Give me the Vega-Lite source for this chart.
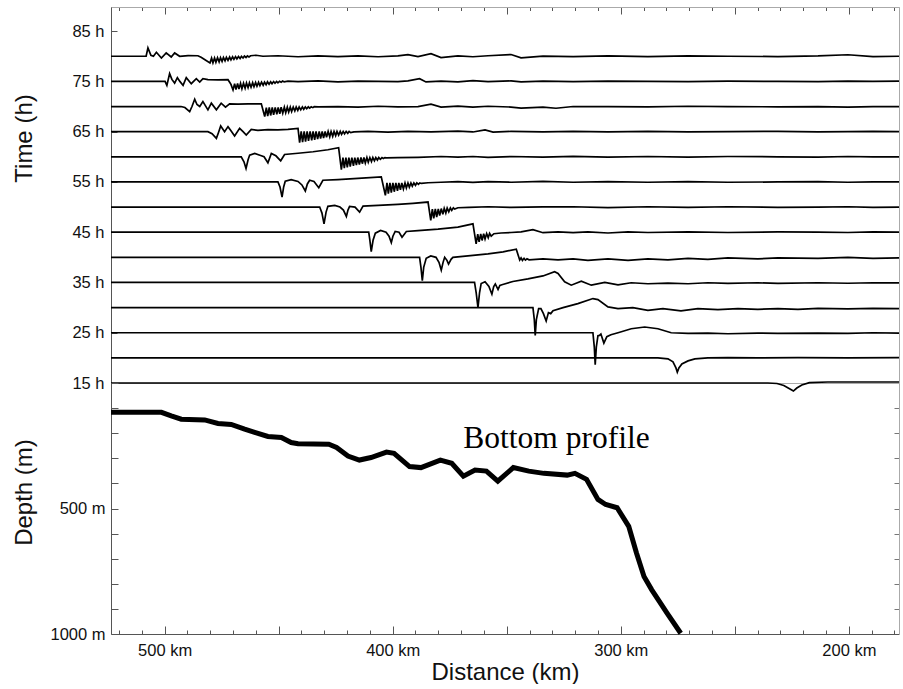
{
"$schema":"https://vega.github.io/schema/vega-lite/v6.json",
"padding":{"left":11,"top":6,"right":0,"bottom":0},
"background":"white",
"datasets":{
"traces":[
{"t":80,"d":523.5,"h":80},{"t":80,"d":508.1,"h":80},{"t":80,"d":507.3,"h":81.68},{"t":80,"d":506.0,"h":80.2},{"t":80,"d":504.9,"h":80},{"t":80,"d":503.6,"h":80.8},{"t":80,"d":501.4,"h":79.66},{"t":80,"d":499.3,"h":80.66},{"t":80,"d":497.1,"h":79.86},{"t":80,"d":495.6,"h":80.66},{"t":80,"d":493.4,"h":80},{"t":80,"d":489.7,"h":80.14},{"t":80,"d":485.4,"h":80.1},{"t":80,"d":484.0,"h":79.8},{"t":80,"d":482.3,"h":79.3},{"t":80,"d":480.1,"h":78.68},
{"t":80,"d":479.4,"h":79.62},{"t":80,"d":478.8,"h":78.70},{"t":80,"d":478.1,"h":79.66},{"t":80,"d":477.5,"h":78.80},{"t":80,"d":476.8,"h":79.70},{"t":80,"d":476.1,"h":78.88},{"t":80,"d":475.5,"h":79.73},{"t":80,"d":474.8,"h":78.98},{"t":80,"d":474.2,"h":79.76},{"t":80,"d":473.5,"h":79.08},{"t":80,"d":472.9,"h":79.80},{"t":80,"d":472.2,"h":79.18},{"t":80,"d":471.5,"h":79.84},{"t":80,"d":470.9,"h":79.28},{"t":80,"d":470.2,"h":79.88},{"t":80,"d":469.6,"h":79.38},{"t":80,"d":468.9,"h":79.92},{"t":80,"d":468.3,"h":79.46},{"t":80,"d":467.6,"h":79.95},{"t":80,"d":466.9,"h":79.56},{"t":80,"d":466.3,"h":79.99},{"t":80,"d":465.6,"h":79.66},{"t":80,"d":465.0,"h":80.03},{"t":80,"d":464.3,"h":79.76},{"t":80,"d":463.7,"h":80.06},{"t":80,"d":463.0,"h":79.86},{"t":80,"d":462.3,"h":80.10},
{"t":80,"d":459.9,"h":80.2},{"t":80,"d":456.9,"h":80.0},{"t":80,"d":450.3,"h":80.1},{"t":80,"d":441.5,"h":79.9},{"t":80,"d":432.7,"h":80.06},{"t":80,"d":424.0,"h":79.94},{"t":80,"d":415.2,"h":80.08},{"t":80,"d":406.4,"h":79.9},{"t":80,"d":397.7,"h":80.06},{"t":80,"d":393.3,"h":80.34},{"t":80,"d":388.9,"h":79.94},{"t":80,"d":383.2,"h":80.5},{"t":80,"d":378.8,"h":79.74},{"t":80,"d":371.4,"h":80.06},{"t":80,"d":364.8,"h":79.9},{"t":80,"d":358.2,"h":80.1},{"t":80,"d":348.1,"h":80.34},{"t":80,"d":343.7,"h":79.7},{"t":80,"d":334.1,"h":80.04},{"t":80,"d":320.9,"h":79.94},{"t":80,"d":305.6,"h":80.06},{"t":80,"d":288.1,"h":79.94},{"t":80,"d":270.5,"h":80.06},{"t":80,"d":253.0,"h":80.0},{"t":80,"d":231.1,"h":79.94},{"t":80,"d":213.5,"h":80.06},{"t":80,"d":200.4,"h":80.3},{"t":80,"d":189.4,"h":79.94},{"t":80,"d":178.0,"h":80.0},

{"t":75,"d":523.5,"h":75},{"t":75,"d":499.8,"h":75},{"t":75,"d":499.0,"h":74.2},{"t":75,"d":497.8,"h":76.54},{"t":75,"d":496.8,"h":75.4},{"t":75,"d":495.6,"h":74.66},{"t":75,"d":494.4,"h":75.74},{"t":75,"d":493.3,"h":75},{"t":75,"d":491.9,"h":74.2},{"t":75,"d":490.5,"h":75.74},{"t":75,"d":488.3,"h":74.54},{"t":75,"d":486.1,"h":75.54},{"t":75,"d":484.6,"h":74.86},{"t":75,"d":483.2,"h":75.54},{"t":75,"d":481.0,"h":75.34},{"t":75,"d":476.6,"h":75.3},{"t":75,"d":472.2,"h":75.34},{"t":75,"d":470.9,"h":74.4},{"t":75,"d":470.0,"h":73.3},
{"t":75,"d":469.3,"h":74.56},{"t":75,"d":468.7,"h":73.36},{"t":75,"d":468.0,"h":74.59},{"t":75,"d":467.4,"h":73.46},{"t":75,"d":466.7,"h":74.62},{"t":75,"d":466.1,"h":73.55},{"t":75,"d":465.4,"h":74.65},{"t":75,"d":464.7,"h":73.65},{"t":75,"d":464.1,"h":74.68},{"t":75,"d":463.4,"h":73.75},{"t":75,"d":462.8,"h":74.71},{"t":75,"d":462.1,"h":73.85},{"t":75,"d":461.4,"h":74.75},{"t":75,"d":460.8,"h":73.94},{"t":75,"d":460.1,"h":74.78},{"t":75,"d":459.5,"h":74.04},{"t":75,"d":458.8,"h":74.81},{"t":75,"d":458.2,"h":74.14},{"t":75,"d":457.5,"h":74.84},{"t":75,"d":456.8,"h":74.24},{"t":75,"d":456.2,"h":74.87},{"t":75,"d":455.5,"h":74.33},{"t":75,"d":454.9,"h":74.91},{"t":75,"d":454.2,"h":74.43},{"t":75,"d":453.5,"h":74.94},{"t":75,"d":452.9,"h":74.53},{"t":75,"d":452.2,"h":74.97},{"t":75,"d":451.6,"h":74.63},{"t":75,"d":450.9,"h":75.0},{"t":75,"d":450.3,"h":74.72},{"t":75,"d":449.6,"h":75.03},{"t":75,"d":448.9,"h":74.82},{"t":75,"d":448.3,"h":75.06},{"t":75,"d":447.6,"h":74.92},
{"t":75,"d":445.9,"h":75.06},{"t":75,"d":441.5,"h":74.94},{"t":75,"d":432.7,"h":75.1},{"t":75,"d":424.0,"h":74.9},{"t":75,"d":415.2,"h":75.06},{"t":75,"d":406.4,"h":75.0},{"t":75,"d":397.7,"h":74.94},{"t":75,"d":393.3,"h":75.1},{"t":75,"d":388.2,"h":75.54},{"t":75,"d":385.4,"h":74.9},{"t":75,"d":378.8,"h":75.06},{"t":75,"d":371.4,"h":74.9},{"t":75,"d":364.8,"h":75.16},{"t":75,"d":358.2,"h":74.94},{"t":75,"d":348.1,"h":75.1},{"t":75,"d":343.7,"h":74.9},{"t":75,"d":334.1,"h":75.06},{"t":75,"d":320.9,"h":74.94},{"t":75,"d":305.6,"h":75.06},{"t":75,"d":288.1,"h":75.0},{"t":75,"d":270.5,"h":74.94},{"t":75,"d":253.0,"h":75.06},{"t":75,"d":231.1,"h":75.0},{"t":75,"d":213.5,"h":74.94},{"t":75,"d":200.4,"h":75.06},{"t":75,"d":189.4,"h":75.0},{"t":75,"d":178.0,"h":75.06},

{"t":70,"d":523.5,"h":70},{"t":70,"d":492.8,"h":70},{"t":70,"d":491.1,"h":69.8},{"t":70,"d":489.0,"h":69.0},{"t":70,"d":488.0,"h":70},{"t":70,"d":486.8,"h":71.46},{"t":70,"d":485.8,"h":70.4},{"t":70,"d":484.6,"h":70},{"t":70,"d":483.2,"h":71.0},{"t":70,"d":481.0,"h":69.34},{"t":70,"d":479.5,"h":70.66},{"t":70,"d":477.3,"h":69.34},{"t":70,"d":475.2,"h":70.66},{"t":70,"d":473.3,"h":69.86},{"t":70,"d":471.5,"h":70.54},{"t":70,"d":467.8,"h":70.46},{"t":70,"d":463.4,"h":70.54},{"t":70,"d":457.6,"h":70.54},{"t":70,"d":456.1,"h":68.0},
{"t":70,"d":455.4,"h":69.80},{"t":70,"d":454.8,"h":68.11},{"t":70,"d":454.1,"h":69.81},{"t":70,"d":453.5,"h":68.22},{"t":70,"d":452.8,"h":69.82},{"t":70,"d":452.2,"h":68.33},{"t":70,"d":451.5,"h":69.83},{"t":70,"d":450.8,"h":68.45},{"t":70,"d":450.2,"h":69.84},{"t":70,"d":449.5,"h":68.56},{"t":70,"d":448.9,"h":69.85},{"t":70,"d":448.2,"h":68.67},{"t":70,"d":447.5,"h":69.86},{"t":70,"d":446.9,"h":68.78},{"t":70,"d":446.2,"h":69.87},{"t":70,"d":445.6,"h":68.89},{"t":70,"d":444.9,"h":69.88},{"t":70,"d":444.3,"h":69.00},{"t":70,"d":443.6,"h":69.89},{"t":70,"d":442.9,"h":69.12},{"t":70,"d":442.3,"h":69.90},{"t":70,"d":441.6,"h":69.23},{"t":70,"d":441.0,"h":69.91},{"t":70,"d":440.3,"h":69.34},{"t":70,"d":439.6,"h":69.92},{"t":70,"d":439.0,"h":69.45},{"t":70,"d":438.3,"h":69.93},{"t":70,"d":437.7,"h":69.56},{"t":70,"d":437.0,"h":69.94},{"t":70,"d":436.4,"h":69.67},{"t":70,"d":435.7,"h":69.95},{"t":70,"d":435.0,"h":69.78},{"t":70,"d":434.4,"h":69.96},
{"t":70,"d":432.7,"h":69.94},{"t":70,"d":424.0,"h":70.0},{"t":70,"d":415.2,"h":69.9},{"t":70,"d":406.4,"h":70.06},{"t":70,"d":397.7,"h":69.94},{"t":70,"d":388.9,"h":70.0},{"t":70,"d":383.2,"h":70.46},{"t":70,"d":378.8,"h":69.9},{"t":70,"d":371.4,"h":70.1},{"t":70,"d":364.8,"h":69.9},{"t":70,"d":358.2,"h":70.06},{"t":70,"d":348.1,"h":69.9},{"t":70,"d":343.7,"h":69.7},{"t":70,"d":334.1,"h":69.9},{"t":70,"d":328.4,"h":69.66},{"t":70,"d":320.9,"h":70.0},{"t":70,"d":305.6,"h":70.0},{"t":70,"d":288.1,"h":69.94},{"t":70,"d":270.5,"h":70.06},{"t":70,"d":253.0,"h":70.0},{"t":70,"d":231.1,"h":69.94},{"t":70,"d":213.5,"h":70.0},{"t":70,"d":200.4,"h":69.9},{"t":70,"d":189.4,"h":70.0},{"t":70,"d":178.0,"h":70.0},

{"t":65,"d":523.5,"h":65},{"t":65,"d":481.0,"h":65},{"t":65,"d":479.2,"h":64.6},{"t":65,"d":477.3,"h":63.66},{"t":65,"d":476.4,"h":64.8},{"t":65,"d":475.4,"h":66.14},{"t":65,"d":473.7,"h":65},{"t":65,"d":472.2,"h":66.0},{"t":65,"d":470.9,"h":65.2},{"t":65,"d":469.3,"h":64.14},{"t":65,"d":467.1,"h":65.66},{"t":65,"d":465.6,"h":65},{"t":65,"d":464.2,"h":64.34},{"t":65,"d":462.0,"h":65.46},{"t":65,"d":459.1,"h":65.26},{"t":65,"d":454.7,"h":65.4},{"t":65,"d":450.3,"h":65.34},{"t":65,"d":445.9,"h":65.46},{"t":65,"d":441.5,"h":65.66},{"t":65,"d":440.8,"h":62.8},
{"t":65,"d":440.1,"h":65.05},{"t":65,"d":439.5,"h":62.92},{"t":65,"d":438.8,"h":65.05},{"t":65,"d":438.2,"h":63.04},{"t":65,"d":437.5,"h":65.05},{"t":65,"d":436.9,"h":63.15},{"t":65,"d":436.2,"h":65.05},{"t":65,"d":435.5,"h":63.27},{"t":65,"d":434.9,"h":65.05},{"t":65,"d":434.2,"h":63.39},{"t":65,"d":433.6,"h":65.05},{"t":65,"d":432.9,"h":63.51},{"t":65,"d":432.2,"h":65.05},{"t":65,"d":431.6,"h":63.62},{"t":65,"d":430.9,"h":65.05},{"t":65,"d":430.3,"h":63.74},{"t":65,"d":429.6,"h":65.05},{"t":65,"d":429.0,"h":63.86},{"t":65,"d":428.3,"h":65.05},{"t":65,"d":427.6,"h":63.98},{"t":65,"d":427.0,"h":65.05},{"t":65,"d":426.3,"h":64.09},{"t":65,"d":425.7,"h":65.05},{"t":65,"d":425.0,"h":64.21},{"t":65,"d":424.4,"h":65.05},{"t":65,"d":423.7,"h":64.33},{"t":65,"d":423.0,"h":65.05},{"t":65,"d":422.4,"h":64.45},{"t":65,"d":421.7,"h":65.05},{"t":65,"d":421.1,"h":64.56},{"t":65,"d":420.4,"h":65.05},{"t":65,"d":419.7,"h":64.68},{"t":65,"d":419.1,"h":65.05},{"t":65,"d":418.4,"h":64.80},
{"t":65,"d":417.0,"h":64.94},{"t":65,"d":410.8,"h":65.06},{"t":65,"d":402.1,"h":64.9},{"t":65,"d":393.3,"h":65.06},{"t":65,"d":383.2,"h":64.94},{"t":65,"d":371.4,"h":65.1},{"t":65,"d":364.8,"h":64.94},{"t":65,"d":359.5,"h":65.34},{"t":65,"d":356.0,"h":64.9},{"t":65,"d":348.1,"h":65.06},{"t":65,"d":334.1,"h":64.94},{"t":65,"d":320.9,"h":65.06},{"t":65,"d":305.6,"h":64.94},{"t":65,"d":288.1,"h":65.06},{"t":65,"d":270.5,"h":64.94},{"t":65,"d":253.0,"h":65.0},{"t":65,"d":231.1,"h":65.06},{"t":65,"d":213.5,"h":64.94},{"t":65,"d":200.4,"h":65.0},{"t":65,"d":189.4,"h":65.06},{"t":65,"d":178.0,"h":65.0},

{"t":60,"d":523.5,"h":60},{"t":60,"d":466.4,"h":60},{"t":60,"d":465.2,"h":59.0},{"t":60,"d":464.3,"h":57.66},{"t":60,"d":463.4,"h":59.4},{"t":60,"d":462.7,"h":60.34},{"t":60,"d":460.5,"h":60.66},{"t":60,"d":458.2,"h":60.3},{"t":60,"d":456.4,"h":60},{"t":60,"d":454.7,"h":58.8},{"t":60,"d":453.2,"h":60.66},{"t":60,"d":451.2,"h":60.2},{"t":60,"d":449.1,"h":59.2},{"t":60,"d":447.4,"h":60.46},{"t":60,"d":441.5,"h":60.7},{"t":60,"d":434.9,"h":61.0},{"t":60,"d":428.4,"h":61.4},{"t":60,"d":423.7,"h":61.8},{"t":60,"d":422.5,"h":57.46},
{"t":60,"d":421.8,"h":59.85},{"t":60,"d":421.2,"h":57.75},{"t":60,"d":420.5,"h":59.85},{"t":60,"d":419.9,"h":57.89},{"t":60,"d":419.2,"h":59.85},{"t":60,"d":418.6,"h":58.04},{"t":60,"d":417.9,"h":59.85},{"t":60,"d":417.2,"h":58.19},{"t":60,"d":416.6,"h":59.85},{"t":60,"d":415.9,"h":58.33},{"t":60,"d":415.3,"h":59.85},{"t":60,"d":414.6,"h":58.48},{"t":60,"d":413.9,"h":59.85},{"t":60,"d":413.3,"h":58.63},{"t":60,"d":412.6,"h":59.85},{"t":60,"d":412.0,"h":58.77},{"t":60,"d":411.3,"h":59.85},{"t":60,"d":410.7,"h":58.92},{"t":60,"d":410.0,"h":59.85},{"t":60,"d":409.3,"h":59.07},{"t":60,"d":408.7,"h":59.85},{"t":60,"d":408.0,"h":59.21},{"t":60,"d":407.4,"h":59.85},{"t":60,"d":406.7,"h":59.36},{"t":60,"d":406.1,"h":59.85},{"t":60,"d":405.4,"h":59.51},{"t":60,"d":404.7,"h":59.85},{"t":60,"d":404.1,"h":59.65},{"t":60,"d":403.4,"h":59.85},{"t":60,"d":402.8,"h":59.8},
{"t":60,"d":397.7,"h":59.84},{"t":60,"d":388.9,"h":59.9},{"t":60,"d":378.8,"h":60.06},{"t":60,"d":371.4,"h":59.94},{"t":60,"d":364.8,"h":60.06},{"t":60,"d":358.2,"h":59.9},{"t":60,"d":348.1,"h":60.06},{"t":60,"d":334.1,"h":59.94},{"t":60,"d":320.9,"h":60.1},{"t":60,"d":305.6,"h":59.94},{"t":60,"d":288.1,"h":60.06},{"t":60,"d":270.5,"h":59.94},{"t":60,"d":253.0,"h":60.06},{"t":60,"d":231.1,"h":60.0},{"t":60,"d":213.5,"h":59.94},{"t":60,"d":200.4,"h":60.06},{"t":60,"d":189.4,"h":60.0},{"t":60,"d":178.0,"h":60.0},

{"t":55,"d":523.5,"h":55},{"t":55,"d":450.3,"h":55},{"t":55,"d":449.4,"h":54.0},{"t":55,"d":448.5,"h":52.0},{"t":55,"d":447.8,"h":54.0},{"t":55,"d":447.1,"h":55.14},{"t":55,"d":444.5,"h":55.46},{"t":55,"d":441.5,"h":55.1},{"t":55,"d":439.8,"h":54.4},{"t":55,"d":438.3,"h":53.2},{"t":55,"d":437.4,"h":54.6},{"t":55,"d":436.4,"h":55.34},{"t":55,"d":434.5,"h":55.1},{"t":55,"d":432.4,"h":53.86},{"t":55,"d":430.6,"h":55.34},{"t":55,"d":424.0,"h":55.46},{"t":55,"d":415.2,"h":55.7},{"t":55,"d":405.0,"h":56.0},{"t":55,"d":403.2,"h":52.34},
{"t":55,"d":402.5,"h":54.8},{"t":55,"d":401.9,"h":52.68},{"t":55,"d":401.2,"h":54.8},{"t":55,"d":400.6,"h":52.87},{"t":55,"d":399.9,"h":54.8},{"t":55,"d":399.3,"h":53.05},{"t":55,"d":398.6,"h":54.8},{"t":55,"d":397.9,"h":53.23},{"t":55,"d":397.3,"h":54.8},{"t":55,"d":396.6,"h":53.42},{"t":55,"d":396.0,"h":54.8},{"t":55,"d":395.3,"h":53.6},{"t":55,"d":394.6,"h":54.8},{"t":55,"d":394.0,"h":53.78},{"t":55,"d":393.3,"h":54.8},{"t":55,"d":392.7,"h":53.97},{"t":55,"d":392.0,"h":54.8},{"t":55,"d":391.4,"h":54.15},{"t":55,"d":390.7,"h":54.8},{"t":55,"d":390.0,"h":54.33},{"t":55,"d":389.4,"h":54.8},{"t":55,"d":388.7,"h":54.52},{"t":55,"d":388.1,"h":54.8},{"t":55,"d":387.4,"h":54.7},
{"t":55,"d":384.5,"h":54.84},{"t":55,"d":378.8,"h":54.94},{"t":55,"d":371.4,"h":55.06},{"t":55,"d":364.8,"h":54.9},{"t":55,"d":358.2,"h":55.06},{"t":55,"d":348.1,"h":54.94},{"t":55,"d":334.1,"h":55.1},{"t":55,"d":320.9,"h":54.94},{"t":55,"d":305.6,"h":55.06},{"t":55,"d":288.1,"h":54.94},{"t":55,"d":270.5,"h":55.06},{"t":55,"d":253.0,"h":54.94},{"t":55,"d":231.1,"h":55.0},{"t":55,"d":213.5,"h":55.06},{"t":55,"d":200.4,"h":54.94},{"t":55,"d":189.4,"h":55.0},{"t":55,"d":178.0,"h":55.0},

{"t":50,"d":523.5,"h":50},{"t":50,"d":432.0,"h":50},{"t":50,"d":431.0,"h":48.8},{"t":50,"d":430.1,"h":46.66},{"t":50,"d":429.2,"h":49.0},{"t":50,"d":428.4,"h":50.14},{"t":50,"d":425.4,"h":50.34},{"t":50,"d":423.1,"h":50},{"t":50,"d":421.6,"h":49.4},{"t":50,"d":420.3,"h":48.14},{"t":50,"d":419.6,"h":49.4},{"t":50,"d":418.9,"h":50.14},{"t":50,"d":416.5,"h":50},{"t":50,"d":414.5,"h":49.0},{"t":50,"d":413.0,"h":50.2},{"t":50,"d":406.4,"h":50.34},{"t":50,"d":397.7,"h":50.54},{"t":50,"d":391.1,"h":50.74},{"t":50,"d":384.5,"h":51.0},{"t":50,"d":383.3,"h":47.34},
{"t":50,"d":382.6,"h":49.6},{"t":50,"d":382.0,"h":47.76},{"t":50,"d":381.3,"h":49.62},{"t":50,"d":380.7,"h":48.02},{"t":50,"d":380.0,"h":49.65},{"t":50,"d":379.4,"h":48.29},{"t":50,"d":378.7,"h":49.7},{"t":50,"d":378.0,"h":48.55},{"t":50,"d":377.4,"h":49.75},{"t":50,"d":376.7,"h":48.81},{"t":50,"d":376.1,"h":49.8},{"t":50,"d":375.4,"h":49.07},{"t":50,"d":374.7,"h":49.82},{"t":50,"d":374.1,"h":49.34},{"t":50,"d":373.4,"h":49.85},{"t":50,"d":372.8,"h":49.6},
{"t":50,"d":371.4,"h":49.86},{"t":50,"d":366.5,"h":49.94},{"t":50,"d":358.2,"h":50.06},{"t":50,"d":348.1,"h":49.94},{"t":50,"d":334.1,"h":50.04},{"t":50,"d":320.9,"h":50.06},{"t":50,"d":305.6,"h":49.9},{"t":50,"d":288.1,"h":50.06},{"t":50,"d":270.5,"h":49.94},{"t":50,"d":253.0,"h":50.06},{"t":50,"d":231.1,"h":49.94},{"t":50,"d":213.5,"h":50.0},{"t":50,"d":200.4,"h":50.06},{"t":50,"d":189.4,"h":49.94},{"t":50,"d":178.0,"h":50.0},

{"t":45,"d":523.5,"h":45},{"t":45,"d":410.5,"h":45},{"t":45,"d":410.0,"h":43.4},{"t":45,"d":409.4,"h":41.14},{"t":45,"d":408.6,"h":43.4},{"t":45,"d":407.6,"h":44.8},{"t":45,"d":405.3,"h":45.34},{"t":45,"d":402.9,"h":45},{"t":45,"d":401.6,"h":44.2},{"t":45,"d":400.6,"h":42.94},{"t":45,"d":399.9,"h":44.2},{"t":45,"d":398.9,"h":45.14},{"t":45,"d":397.2,"h":45},{"t":45,"d":395.9,"h":44.0},{"t":45,"d":394.0,"h":45.14},{"t":45,"d":388.9,"h":45.3},{"t":45,"d":380.1,"h":45.6},{"t":45,"d":371.4,"h":46.0},{"t":45,"d":364.8,"h":46.66},{"t":45,"d":363.4,"h":42.66},
{"t":45,"d":362.7,"h":44.6},{"t":45,"d":362.1,"h":43.08},{"t":45,"d":361.4,"h":44.64},{"t":45,"d":360.8,"h":43.36},{"t":45,"d":360.1,"h":44.68},{"t":45,"d":359.5,"h":43.64},{"t":45,"d":358.8,"h":44.72},{"t":45,"d":358.1,"h":43.92},{"t":45,"d":357.5,"h":44.76},{"t":45,"d":356.8,"h":44.2},
{"t":45,"d":355.6,"h":44.7},{"t":45,"d":352.5,"h":44.84},{"t":45,"d":348.1,"h":44.94},{"t":45,"d":343.7,"h":45.06},{"t":45,"d":338.5,"h":45.5},{"t":45,"d":334.1,"h":44.9},{"t":45,"d":327.5,"h":45.06},{"t":45,"d":320.9,"h":44.9},{"t":45,"d":314.4,"h":45.06},{"t":45,"d":305.6,"h":44.84},{"t":45,"d":296.8,"h":45.06},{"t":45,"d":288.1,"h":44.94},{"t":45,"d":270.5,"h":45.06},{"t":45,"d":253.0,"h":44.94},{"t":45,"d":231.1,"h":45.06},{"t":45,"d":213.5,"h":45.0},{"t":45,"d":200.4,"h":44.94},{"t":45,"d":189.4,"h":45.06},{"t":45,"d":178.0,"h":45.0},

{"t":40,"d":523.5,"h":40},{"t":40,"d":388.2,"h":40},{"t":40,"d":387.6,"h":38.0},{"t":40,"d":387.0,"h":35.34},{"t":40,"d":386.4,"h":38.0},{"t":40,"d":385.3,"h":39.8},{"t":40,"d":383.3,"h":40.26},{"t":40,"d":381.0,"h":40},{"t":40,"d":379.7,"h":39.0},{"t":40,"d":378.7,"h":37.46},{"t":40,"d":377.9,"h":39.0},{"t":40,"d":377.2,"h":40},{"t":40,"d":376.2,"h":39.4},{"t":40,"d":375.5,"h":38.66},{"t":40,"d":374.4,"h":39.6},{"t":40,"d":373.6,"h":40},{"t":40,"d":367.0,"h":40.3},{"t":40,"d":358.2,"h":40.7},{"t":40,"d":351.6,"h":41.1},{"t":40,"d":345.8,"h":41.6},{"t":40,"d":344.3,"h":39.46},{"t":40,"d":343.7,"h":39.9},{"t":40,"d":343.1,"h":39.4},{"t":40,"d":342.4,"h":39.8},{"t":40,"d":341.8,"h":39.44},{"t":40,"d":341.1,"h":39.7},{"t":40,"d":340.2,"h":39.5},
{"t":40,"d":334.1,"h":39.7},{"t":40,"d":327.5,"h":39.5},{"t":40,"d":320.9,"h":39.7},{"t":40,"d":314.4,"h":39.4},{"t":40,"d":305.6,"h":39.7},{"t":40,"d":296.8,"h":39.4},{"t":40,"d":288.1,"h":39.7},{"t":40,"d":279.3,"h":39.5},{"t":40,"d":270.5,"h":39.8},{"t":40,"d":261.8,"h":39.6},{"t":40,"d":253.0,"h":39.9},{"t":40,"d":239.9,"h":39.7},{"t":40,"d":231.1,"h":39.9},{"t":40,"d":213.5,"h":39.8},{"t":40,"d":200.4,"h":40.0},{"t":40,"d":189.4,"h":39.8},{"t":40,"d":178.0,"h":39.9},

{"t":35,"d":523.5,"h":35},{"t":35,"d":364.1,"h":35},{"t":35,"d":363.4,"h":33.0},{"t":35,"d":362.6,"h":30.0},{"t":35,"d":361.9,"h":33.0},{"t":35,"d":361.2,"h":34.8},{"t":35,"d":359.5,"h":35.14},{"t":35,"d":357.8,"h":34.2},{"t":35,"d":356.5,"h":32.66},{"t":35,"d":355.7,"h":34.2},{"t":35,"d":355.0,"h":34.7},{"t":35,"d":353.8,"h":33.6},{"t":35,"d":353.0,"h":34.4},{"t":35,"d":352.1,"h":34.54},{"t":35,"d":347.3,"h":35.2},{"t":35,"d":340.7,"h":35.7},{"t":35,"d":334.1,"h":36.3},{"t":35,"d":329.0,"h":37.14},{"t":35,"d":327.5,"h":36.8},{"t":35,"d":324.6,"h":35.14},{"t":35,"d":321.7,"h":34.46},{"t":35,"d":317.3,"h":35.26},{"t":35,"d":312.9,"h":34.46},{"t":35,"d":307.0,"h":35.0},{"t":35,"d":301.2,"h":34.54},{"t":35,"d":295.4,"h":34.94},{"t":35,"d":288.1,"h":34.74},{"t":35,"d":279.3,"h":34.86},{"t":35,"d":270.5,"h":34.74},{"t":35,"d":261.8,"h":34.94},{"t":35,"d":253.0,"h":34.8},{"t":35,"d":239.9,"h":34.94},{"t":35,"d":231.1,"h":34.8},{"t":35,"d":213.5,"h":34.94},{"t":35,"d":200.4,"h":34.84},{"t":35,"d":189.4,"h":34.94},{"t":35,"d":178.0,"h":34.9},

{"t":30,"d":523.5,"h":30},{"t":30,"d":338.5,"h":30},{"t":30,"d":337.9,"h":27.6},{"t":30,"d":337.5,"h":24.46},{"t":30,"d":337.0,"h":27.6},{"t":30,"d":336.0,"h":29.8},{"t":30,"d":335.0,"h":29.8},{"t":30,"d":333.9,"h":28.8},{"t":30,"d":332.7,"h":27.34},{"t":30,"d":331.7,"h":29.0},{"t":30,"d":330.7,"h":28.8},{"t":30,"d":329.7,"h":29.4},{"t":30,"d":325.3,"h":30},{"t":30,"d":318.8,"h":30.8},{"t":30,"d":312.2,"h":31.8},{"t":30,"d":310.0,"h":31.6},{"t":30,"d":305.6,"h":30.14},{"t":30,"d":301.2,"h":29.8},{"t":30,"d":294.7,"h":30},{"t":30,"d":288.1,"h":29.46},{"t":30,"d":281.5,"h":29.8},{"t":30,"d":273.6,"h":29.34},{"t":30,"d":266.2,"h":29.8},{"t":30,"d":257.4,"h":29.6},{"t":30,"d":248.6,"h":29.8},{"t":30,"d":239.9,"h":29.66},{"t":30,"d":231.1,"h":29.8},{"t":30,"d":222.3,"h":29.66},{"t":30,"d":213.5,"h":29.86},{"t":30,"d":200.4,"h":29.74},{"t":30,"d":189.4,"h":29.86},{"t":30,"d":178.0,"h":29.8},

{"t":25,"d":523.5,"h":25},{"t":25,"d":312.2,"h":25},{"t":25,"d":311.6,"h":22.2},{"t":25,"d":311.2,"h":18.66},{"t":25,"d":310.7,"h":22.2},{"t":25,"d":310.0,"h":24.4},{"t":25,"d":309.3,"h":24.46},{"t":25,"d":308.7,"h":24.74},{"t":25,"d":307.4,"h":22.94},{"t":25,"d":306.1,"h":24.2},{"t":25,"d":304.3,"h":24.6},{"t":25,"d":301.2,"h":25},{"t":25,"d":295.4,"h":25.8},{"t":25,"d":289.5,"h":26.14},{"t":25,"d":283.7,"h":25.8},{"t":25,"d":277.9,"h":25},{"t":25,"d":270.5,"h":24.86},{"t":25,"d":261.8,"h":24.94},{"t":25,"d":253.0,"h":24.8},{"t":25,"d":239.9,"h":24.94},{"t":25,"d":231.1,"h":24.86},{"t":25,"d":213.5,"h":24.94},{"t":25,"d":200.4,"h":24.86},{"t":25,"d":189.4,"h":25},{"t":25,"d":178.0,"h":24.94},

{"t":20,"d":523.5,"h":20},{"t":20,"d":283.7,"h":20},{"t":20,"d":279.3,"h":19.8},{"t":20,"d":277.1,"h":19.2},{"t":20,"d":275.8,"h":18.0},{"t":20,"d":275.2,"h":17.14},{"t":20,"d":274.5,"h":18.0},{"t":20,"d":273.2,"h":18.8},{"t":20,"d":270.5,"h":19.4},{"t":20,"d":267.5,"h":19.8},{"t":20,"d":261.8,"h":20},{"t":20,"d":253.0,"h":20.06},{"t":20,"d":239.9,"h":20},{"t":20,"d":222.3,"h":20.06},{"t":20,"d":200.4,"h":20},{"t":20,"d":178.0,"h":20.06},

{"t":15,"d":523.5,"h":15},{"t":15,"d":235.5,"h":15},{"t":15,"d":231.5,"h":14.9},{"t":15,"d":228.5,"h":14.5},{"t":15,"d":225.8,"h":13.8},{"t":15,"d":224.3,"h":13.4},{"t":15,"d":222.8,"h":14.0},{"t":15,"d":220.6,"h":14.6},{"t":15,"d":217.3,"h":15.06},{"t":15,"d":209.2,"h":15.2},{"t":15,"d":196.0,"h":15.2},{"t":15,"d":178.0,"h":15.2}
],
"profile":[
{"d":523.5,"depth":117},{"d":501.4,"depth":117},{"d":497.1,"depth":131},{"d":492.7,"depth":144},{"d":482.4,"depth":147},{"d":476.6,"depth":161},{"d":470.8,"depth":165},{"d":464.9,"depth":184},{"d":460.5,"depth":197},{"d":454.7,"depth":213},{"d":448.8,"depth":217},{"d":444.5,"depth":237},{"d":441.5,"depth":242},{"d":428,"depth":244},{"d":424.6,"depth":257},{"d":419.6,"depth":291},{"d":414.6,"depth":307},{"d":409.5,"depth":297},{"d":402.7,"depth":275},{"d":399.4,"depth":280},{"d":392.6,"depth":333},{"d":387.6,"depth":337},{"d":379.1,"depth":307},{"d":374.1,"depth":320},{"d":369,"depth":371},{"d":363.9,"depth":347},{"d":358.9,"depth":351},{"d":353.9,"depth":391},{"d":347.1,"depth":337},{"d":340.3,"depth":351},{"d":333.7,"depth":360},{"d":323.5,"depth":367},{"d":320.1,"depth":360},{"d":315,"depth":384},{"d":310,"depth":464},{"d":306.6,"depth":484},{"d":301.6,"depth":497},{"d":296.5,"depth":571},{"d":293.1,"depth":677},{"d":289.8,"depth":771},{"d":286.4,"depth":824},{"d":279.7,"depth":917},{"d":273.7,"depth":997}
],
"note":[{"label":"Bottom profile"}]
},
"vconcat":[
{
"width":788,"height":376,
"data":{"name":"traces"},
"mark":{"type":"line","color":"#000","strokeWidth":1.7,"clip":false},
"encoding":{
"x":{"field":"d","type":"quantitative","scale":{"domain":[178,523.5],"reverse":true,"nice":false,"zero":false},
"axis":{"orient":"top","values":[180,190,200,210,220,230,240,250,260,270,280,290,300,310,320,330,340,350,360,370,380,390,400,410,420,430,440,450,460,470,480,490,500,510,520],"labels":false,"title":null,"domainColor":"#aaa","tickColor":"#555","tickSize":{"condition":{"test":"datum.value % 50 === 0","value":-7},"value":-3.5}}},
"y":{"field":"h","type":"quantitative","scale":{"domain":[15,89.8],"nice":false,"zero":false},
"axis":{"values":[15,25,35,45,55,65,75,85],"labelExpr":"datum.value + ' h'","tickSize":-6,"labelPadding":13,"labelFlush":false,"labelOverlap":false,"title":"Time (h)","titleX":-75,"titleY":131}},
"detail":{"field":"t","type":"nominal"}
}
},
{
"width":788,"height":251,
"view":{"stroke":null},
"layer":[
{"data":{"name":"profile"},
"mark":{"type":"line","color":"#000","strokeWidth":5},
"encoding":{
"x":{"field":"d","type":"quantitative","scale":{"domain":[178,523.5],"reverse":true,"nice":false,"zero":false},
"axis":{"orient":"bottom","values":[180,190,200,210,220,230,240,250,260,270,280,290,300,310,320,330,340,350,360,370,380,390,400,410,420,430,440,450,460,470,480,490,500,510,520],"labelExpr":"datum.value % 100 === 0 ? datum.value + ' km' : ''","labelOverlap":false,"labelFlush":false,"labelPadding":16,"tickSize":{"condition":{"test":"datum.value % 50 === 0","value":-8},"value":-4},"title":"Distance (km)","titleY":26}},
"y":{"field":"depth","type":"quantitative","scale":{"domain":[0,1000],"reverse":true,"nice":false,"zero":false},
"axis":{"values":[0,100,200,300,400,500,600,700,800,900,1000],"labelExpr":"datum.value === 500 || datum.value === 1000 ? datum.value + ' m' : ''","tickSize":-7,"labelPadding":13,"labelFlush":false,"labelOverlap":false,"title":"Depth (m)","titleX":-75,"titleY":109}}
}},
{"data":{"name":"note"},
"mark":{"type":"text","font":"Liberation Serif","fontSize":31.5,"align":"center","baseline":"alphabetic","color":"#000"},
"encoding":{
"text":{"field":"label"},
"x":{"datum":328.2,"type":"quantitative","scale":{"domain":[178,523.5],"reverse":true,"nice":false,"zero":false},"axis":null},
"y":{"datum":257,"type":"quantitative","scale":{"domain":[0,1000],"reverse":true,"nice":false,"zero":false},
"axis":{"orient":"right","values":[100,200,300,400,500,600,700,800,900],"labels":false,"title":null,"domain":true,"domainColor":"#aaa","tickSize":-5,"tickColor":"#777"}}
}}
],
"resolve":{"axis":{"x":"independent","y":"independent"}}
}
],
"spacing":0,
"bounds":"flush",
"config":{
"font":"Liberation Sans",
"view":{"stroke":"#aaa","strokeWidth":1},
"axis":{"grid":false,"labelFont":"Liberation Sans","labelFontSize":16.5,"labelColor":"#111","titleFont":"Liberation Sans","titleFontSize":24,"titleFontWeight":"normal","titleColor":"#111","domainColor":"#555","tickColor":"#555","tickWidth":1,"domainWidth":1}
}
}
